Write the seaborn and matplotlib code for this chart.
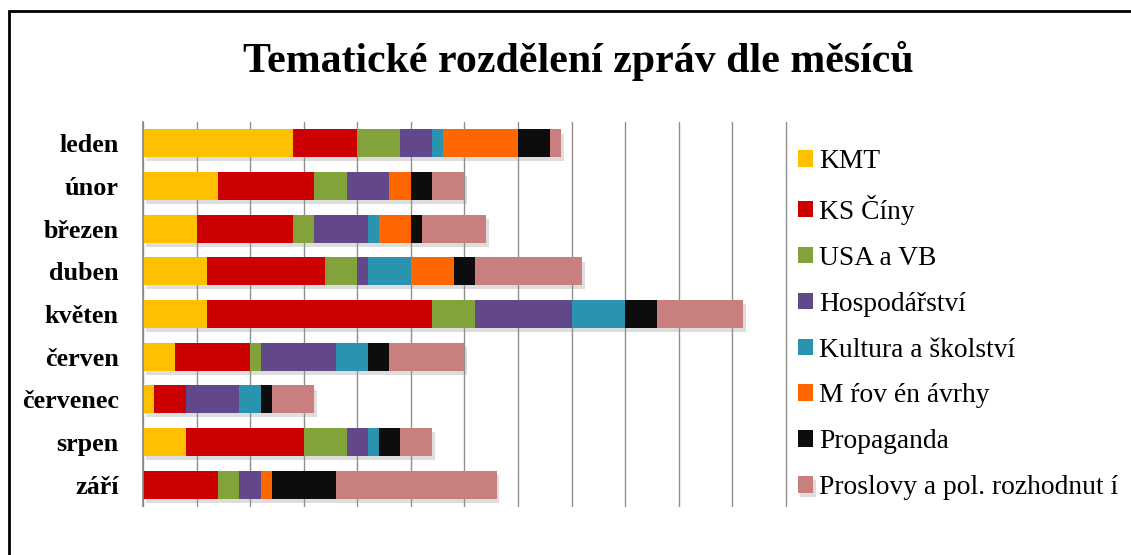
import matplotlib
matplotlib.use("Agg")
import matplotlib.pyplot as plt
import matplotlib.patheffects as pe
from matplotlib.patches import Rectangle
import numpy as np
import seaborn as sns

# ---- data (counts of news items per month and topic) ----
months = ["leden", "únor", "březen", "duben", "květen", "červen", "červenec", "srpen", "září"]
series_names = ["KMT", "KS Číny", "USA a VB", "Hospodářství", "Kultura a školství",
                "M ŕov én ávrhy", "Propaganda", "Proslovy a pol. rozhodnut í"]
kmt = [14, 7, 5, 6, 6, 3, 1, 4, 0]
ks_ciny = [6, 9, 9, 11, 21, 7, 3, 11, 7]
usa_vb = [4, 3, 2, 3, 4, 1, 0, 4, 2]
hospodarstvi = [3, 4, 5, 1, 9, 7, 5, 2, 2]
kultura = [1, 0, 1, 4, 5, 3, 2, 1, 0]
mirove = [7, 2, 3, 4, 0, 0, 0, 0, 1]
propaganda = [3, 2, 1, 2, 3, 2, 1, 2, 6]
proslovy = [1, 3, 6, 10, 8, 7, 4, 3, 15]
series_colors = ["#FFC000", "#CC0000", "#82A23A", "#634889", "#2A93B0",
                 "#FF6600", "#0D0D0D", "#C97F7D"]
title = "Tematické rozdělení zpráv dle měsíců"

sns.set_theme(style="white")
plt.rcParams["font.family"] = ["Liberation Serif", "DejaVu Serif"]
plt.rcParams["text.color"] = "black"

W, H = 1131, 555
fig = plt.figure(figsize=(W / 100, H / 100), dpi=100)
ax = fig.add_axes([143 / W, 1 - 506 / H, (786 - 143) / W, (506 - 122) / H])

values = [kmt, ks_ciny, usa_vb, hospodarstvi, kultura, mirove, propaganda, proslovy]
cum = np.cumsum(np.array(values), axis=0)

# draw cumulative totals from the longest to the shortest so each segment shows
for i in range(len(values) - 1, -1, -1):
    sns.barplot(x=cum[i], y=months, orient="h", color=series_colors[i], saturation=1,
                width=0.65, errorbar=None, ax=ax, label=series_names[i], linewidth=0)
if ax.get_legend() is not None:
    ax.get_legend().remove()

# soft shadow only under the complete bar
for p in ax.containers[0].patches:
    p.set_path_effects([pe.SimplePatchShadow(offset=(2, -3), shadow_rgbFace="#909090", alpha=0.3),
                        pe.Normal()])

ax.set_xlim(0, 60)
ax.set_ylim(8.5, -0.5)
ax.set_xticks(np.arange(0, 61, 5))
ax.set_xticklabels([])
ax.tick_params(axis="x", length=0)
ax.tick_params(axis="y", length=0, pad=17.5)
ax.xaxis.grid(True, color="#8F8F8F", linewidth=1.0)
ax.yaxis.grid(False)
ax.set_axisbelow(True)
for gl in ax.get_xgridlines():
    gl.set_clip_on(False)
for s in ["top", "right", "bottom"]:
    ax.spines[s].set_visible(False)
ax.spines["left"].set_color("#8A8A8A")
ax.spines["left"].set_linewidth(1.2)
ax.set_xlabel("")
ax.set_ylabel("")
for lbl in ax.get_yticklabels():
    lbl.set_fontsize(18.8)
    lbl.set_fontweight("bold")
    lbl.set_color("black")

handles = list(ax.containers)[::-1]
leg = fig.legend(handles, series_names, loc="upper left",
                 bbox_to_anchor=(797.7 / W, 1 - 149 / H), frameon=False,
                 borderpad=0, borderaxespad=0, handletextpad=0.23,
                 handlelength=0.55, handleheight=0.55, labelspacing=0.76,
                 labelcolor="black",
                 prop={"family": "Liberation Serif", "size": 19.8})

fig.text(578 / W, 1 - 72 / H, title, ha="center", va="baseline",
         fontsize=30.2, fontweight="bold", color="black")

fig.patches.append(Rectangle((9 / W, -0.2), 2.0, 1 - 10.5 / H + 0.2,
                             transform=fig.transFigure, fill=False,
                             edgecolor="black", linewidth=2.0))

fig.savefig("out.png", dpi=100)
